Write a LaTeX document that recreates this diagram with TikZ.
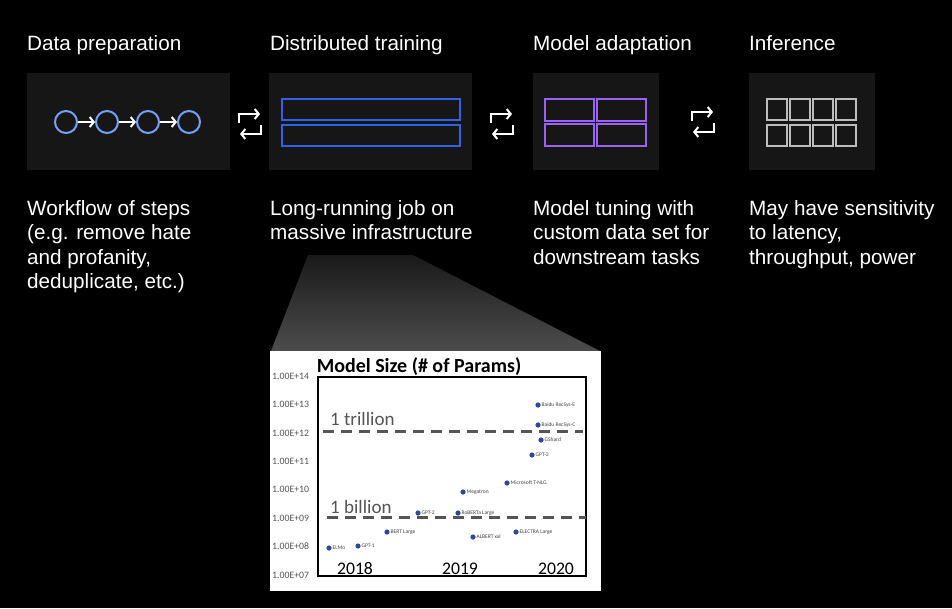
\documentclass[tikz,border=0pt]{standalone}
\usepackage{fontspec}
\setmainfont{Liberation Sans}
\newfontfamily\chartfont{Carlito}
\usetikzlibrary{arrows.meta}

\definecolor{panel}{HTML}{161616}
\definecolor{stepblue}{HTML}{74A0F5}
\definecolor{trainblue}{HTML}{2F62E6}
\definecolor{tunepurple}{HTML}{9C62F5}
\definecolor{infergray}{HTML}{BDBDBD}
\definecolor{dotblue}{HTML}{2F4A94}
\definecolor{refgray}{HTML}{555555}

\newcommand{\Swap}[2]{%
  \draw[swapline, ->] (#1-11,#2-1) -- (#1-11,#2-10) -- (#1+10,#2-10);
  \draw[swapline, ->] (#1+11,#2+1) -- (#1+11,#2+10) -- (#1-10,#2+10);}

\tikzset{
  box/.style={fill=panel, anchor=north west, minimum height=97, inner sep=0},
  head/.style={anchor=base west, inner sep=0, text=white, font=\fontsize{20.7}{24}\selectfont},
  desc/.style={anchor=north west, inner sep=0, text=white, align=left, font=\fontsize{20.7}{24.4}\selectfont},
  stepdot/.style={circle, draw=stepblue, line width=2, minimum size=22, inner sep=0},
  swapline/.style={white, line width=2},
  cell/.style={line width=2.2}
}

\begin{document}
\begin{tikzpicture}[x=1pt, y=-1pt, >={Straight Barb[length=4pt, width=10pt]}]

\path[use as bounding box, fill=black] (0,0) rectangle (952,608);

% stage titles
\draw(27,50) node[head] (h1) {Data preparation};
\draw(270,50) node[head] (h2) {Distributed training};
\draw(533,50) node[head] (h3) {Model adaptation};
\draw(749,50) node[head] (h4) {Inference};

% stage boxes
\draw(27,73) node[box, minimum width=203] (b1) {};
\draw(269,73) node[box, minimum width=203] (b2) {};
\draw(533,73) node[box, minimum width=126] (b3) {};
\draw(749,73) node[box, minimum width=126] (b4) {};

% workflow of steps
\draw(66,122) node[stepdot] (c1) {};
\draw(107,122) node[stepdot] (c2) {};
\draw(148,122) node[stepdot] (c3) {};
\draw(189,122) node[stepdot] (c4) {};
\draw[->, white, line width=2] (c1) -- (c2);
\draw[->, white, line width=2] (c2) -- (c3);
\draw[->, white, line width=2] (c3) -- (c4);

% training bars
\draw[cell, trainblue] (282,99) rectangle (460,120);
\draw[cell, trainblue] (282,125) rectangle (460,146);

% tuning grid
\foreach \x in {545,597}
  \foreach \y in {99,124}
    \draw[cell, tunepurple] (\x,\y) rectangle (\x+49,\y+22);

% inference grid
\foreach \x in {767,790,813,836}
  \foreach \y in {99,125}
    \draw[cell, infergray] (\x,\y) rectangle (\x+20,\y+21);

% swaps between stages
\Swap{250}{124}
\Swap{502}{124}
\Swap{703}{122}

% descriptions
\draw(27,200) node[desc] (d1) {Workflow of steps\\(e.g. remove hate\\and profanity,\\deduplicate, etc.)};
\draw(270,200) node[desc] (d2) {Long-running job on\\massive infrastructure};
\draw(533,200) node[desc] (d3) {Model tuning with\\custom data set for\\downstream tasks};
\draw(749,200) node[desc] (d4) {May have sensitivity\\to latency,\\throughput, power};

% zoom into the chart
\shade[top color=black!90, bottom color=black!70] (308,255) -- (413,255) -- (600,351) -- (271,351) -- cycle;
\fill[white] (270,351) rectangle (601,591);

% chart
\draw(419,372) node[anchor=base, inner sep=0, font=\chartfont\bfseries\fontsize{20}{22}\selectfont] (ct) {Model Size (\# of Params)};
\draw[line width=1.5] (318,377) rectangle (586,576);
\foreach \e [count=\i] in {14,...,7}
  \draw(272,376+28.43*\i-28.43) node[anchor=west, inner sep=0, text=refgray, font=\chartfont\fontsize{9.8}{11}\selectfont] (y\e) {1.00E+\ifnum\e<10 0\fi\e};

\draw[refgray, line width=3, dash pattern=on 11pt off 7pt] (323,431) -- (583,431);
\draw[refgray, line width=3, dash pattern=on 11pt off 7pt] (327,517) -- (586,517);
\draw(330,425) node[anchor=base west, inner sep=0, text=refgray, font=\chartfont\fontsize{19}{22}\selectfont] (tr) {1 trillion};
\draw(330,513) node[anchor=base west, inner sep=0, text=refgray, font=\chartfont\fontsize{19}{22}\selectfont] (bi) {1 billion};

\foreach \x/\yr in {355/2018, 460/2019, 556/2020}
  \draw(\x,574) node[anchor=base, inner sep=0, font=\chartfont\fontsize{17.7}{20}\selectfont] (yr\yr) {\yr};

\foreach \x/\y/\t [count=\i] in {329/548/ELMo, 358/546/GPT-1, 387/532/BERT Large, 418/513/GPT-2,
    458/513/RoBERTa Large, 463/492/Megatron, 473/537/ALBERT xxl, 507/483/Microsoft T-NLG,
    516/532/ELECTRA Large, 532/455/GPT-3, 541/440/GShard, 538/425/Baidu RecSys-C, 538/405/Baidu RecSys-E} {
  \fill[dotblue] (\x,\y) circle (2.6);
  \draw(\x+3.5,\y) node[anchor=west, inner sep=0, text=black!75, font=\chartfont\fontsize{5.5}{6}\selectfont] (p\i) {\t};
}

\end{tikzpicture}
\end{document}
